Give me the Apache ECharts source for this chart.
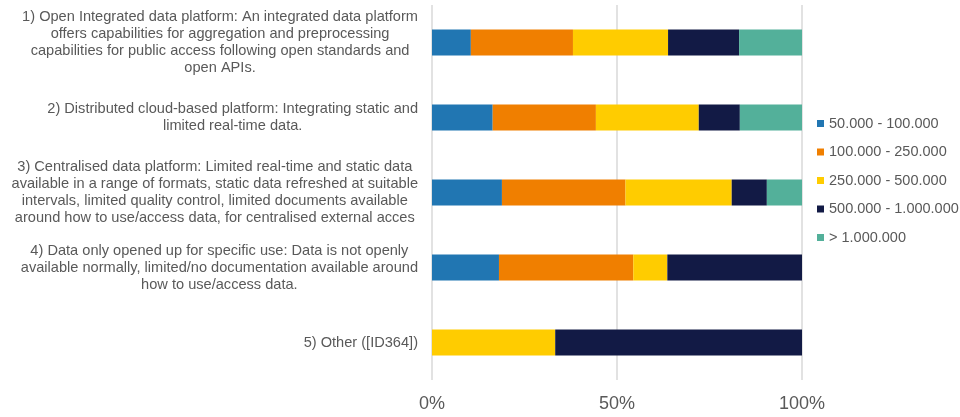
<!DOCTYPE html>
<html lang="en">

<head>
  <meta charset="UTF-8">
  <title>Data platform chart</title>
</head>

<body style="margin:0; background:#fff;">

  <div id="main" style="width: 960px; height:417px;"></div>
  <script src="https://cdn.jsdelivr.net/npm/echarts@6/dist/echarts.min.js"></script>
  <script type="text/javascript">
    var categories = [
      '1) Open Integrated data platform: An integrated data platform\noffers capabilities for aggregation and preprocessing\ncapabilities for public access following open standards and\nopen APIs.',
      '2) Distributed cloud-based platform: Integrating static and\nlimited real-time data.',
      '3) Centralised data platform: Limited real-time and static data\navailable in a range of formats, static data refreshed at suitable\nintervals, limited quality control, limited documents available\naround how to use/access data, for centralised external acces',
      '4) Data only opened up for specific use: Data is not openly\navailable normally, limited/no documentation available around\nhow to use/access data.',
      '5) Other ([ID364])'
    ];
    var seriesNames = ['50.000 - 100.000', '100.000 - 250.000', '250.000 - 500.000', '500.000 - 1.000.000', '> 1.000.000'];
    var colors = ['#2176B2', '#F07F00', '#FFCC00', '#121A45', '#53B09A'];

    // share (%) per band, one array per band, rows in category order
    var band1 = [10.5, 16.4, 18.9, 18.1, 0];
    var band2 = [27.6, 27.9, 33.4, 36.3, 0];
    var band3 = [25.7, 27.8, 28.7, 9.2, 33.3];
    var band4 = [19.2, 11.1, 9.5, 36.4, 66.7];
    var band5 = [17.0, 16.8, 9.5, 0, 0];
    var xTicks = [0, 50, 100];

    var bands = [band1, band2, band3, band4, band5];
    var font = 'Liberation Sans, Arial, sans-serif';

    var myChart = echarts.init(document.getElementById('main'));

    var series = bands.map(function (d, i) {
      return {
        name: seriesNames[i],
        type: 'bar',
        stack: 'total',
        barWidth: 26,
        itemStyle: { color: colors[i] },
        data: d
      };
    });

    var option = {
      animation: false,
      textStyle: { fontFamily: font },
      grid: { left: 432, right: 158, top: 5, bottom: 37 },
      legend: {
        orient: 'vertical',
        left: 812,
        top: 111,
        itemWidth: 7,
        itemHeight: 7,
        itemGap: 13.5,
        icon: 'rect',
        textStyle: { color: '#595959', fontSize: 14.5, fontFamily: font },
        data: seriesNames
      },
      xAxis: {
        type: 'value',
        min: 0,
        max: 100,
        interval: 50,
        axisLine: { show: false },
        axisTick: { show: false },
        splitLine: { lineStyle: { color: '#d9d9d9', width: 1.5 } },
        axisLabel: {
          color: '#595959',
          fontSize: 18,
          margin: 15,
          formatter: function (v) { return xTicks.indexOf(v) >= 0 ? v + '%' : ''; }
        }
      },
      yAxis: {
        type: 'category',
        inverse: true,
        data: categories,
        axisLine: { show: false },
        axisTick: { show: false },
        axisLabel: {
          margin: 14,
          align: 'right',
          formatter: function (v) {
            return v.split('\n').map(function (l) { return '{a|' + l + '}'; }).join('\n');
          },
          rich: {
            a: { color: '#595959', fontSize: 14.6, lineHeight: 17, align: 'center', fontFamily: font }
          }
        }
      },
      series: series
    };
    myChart.setOption(option);
  </script>
</body>

</html>
